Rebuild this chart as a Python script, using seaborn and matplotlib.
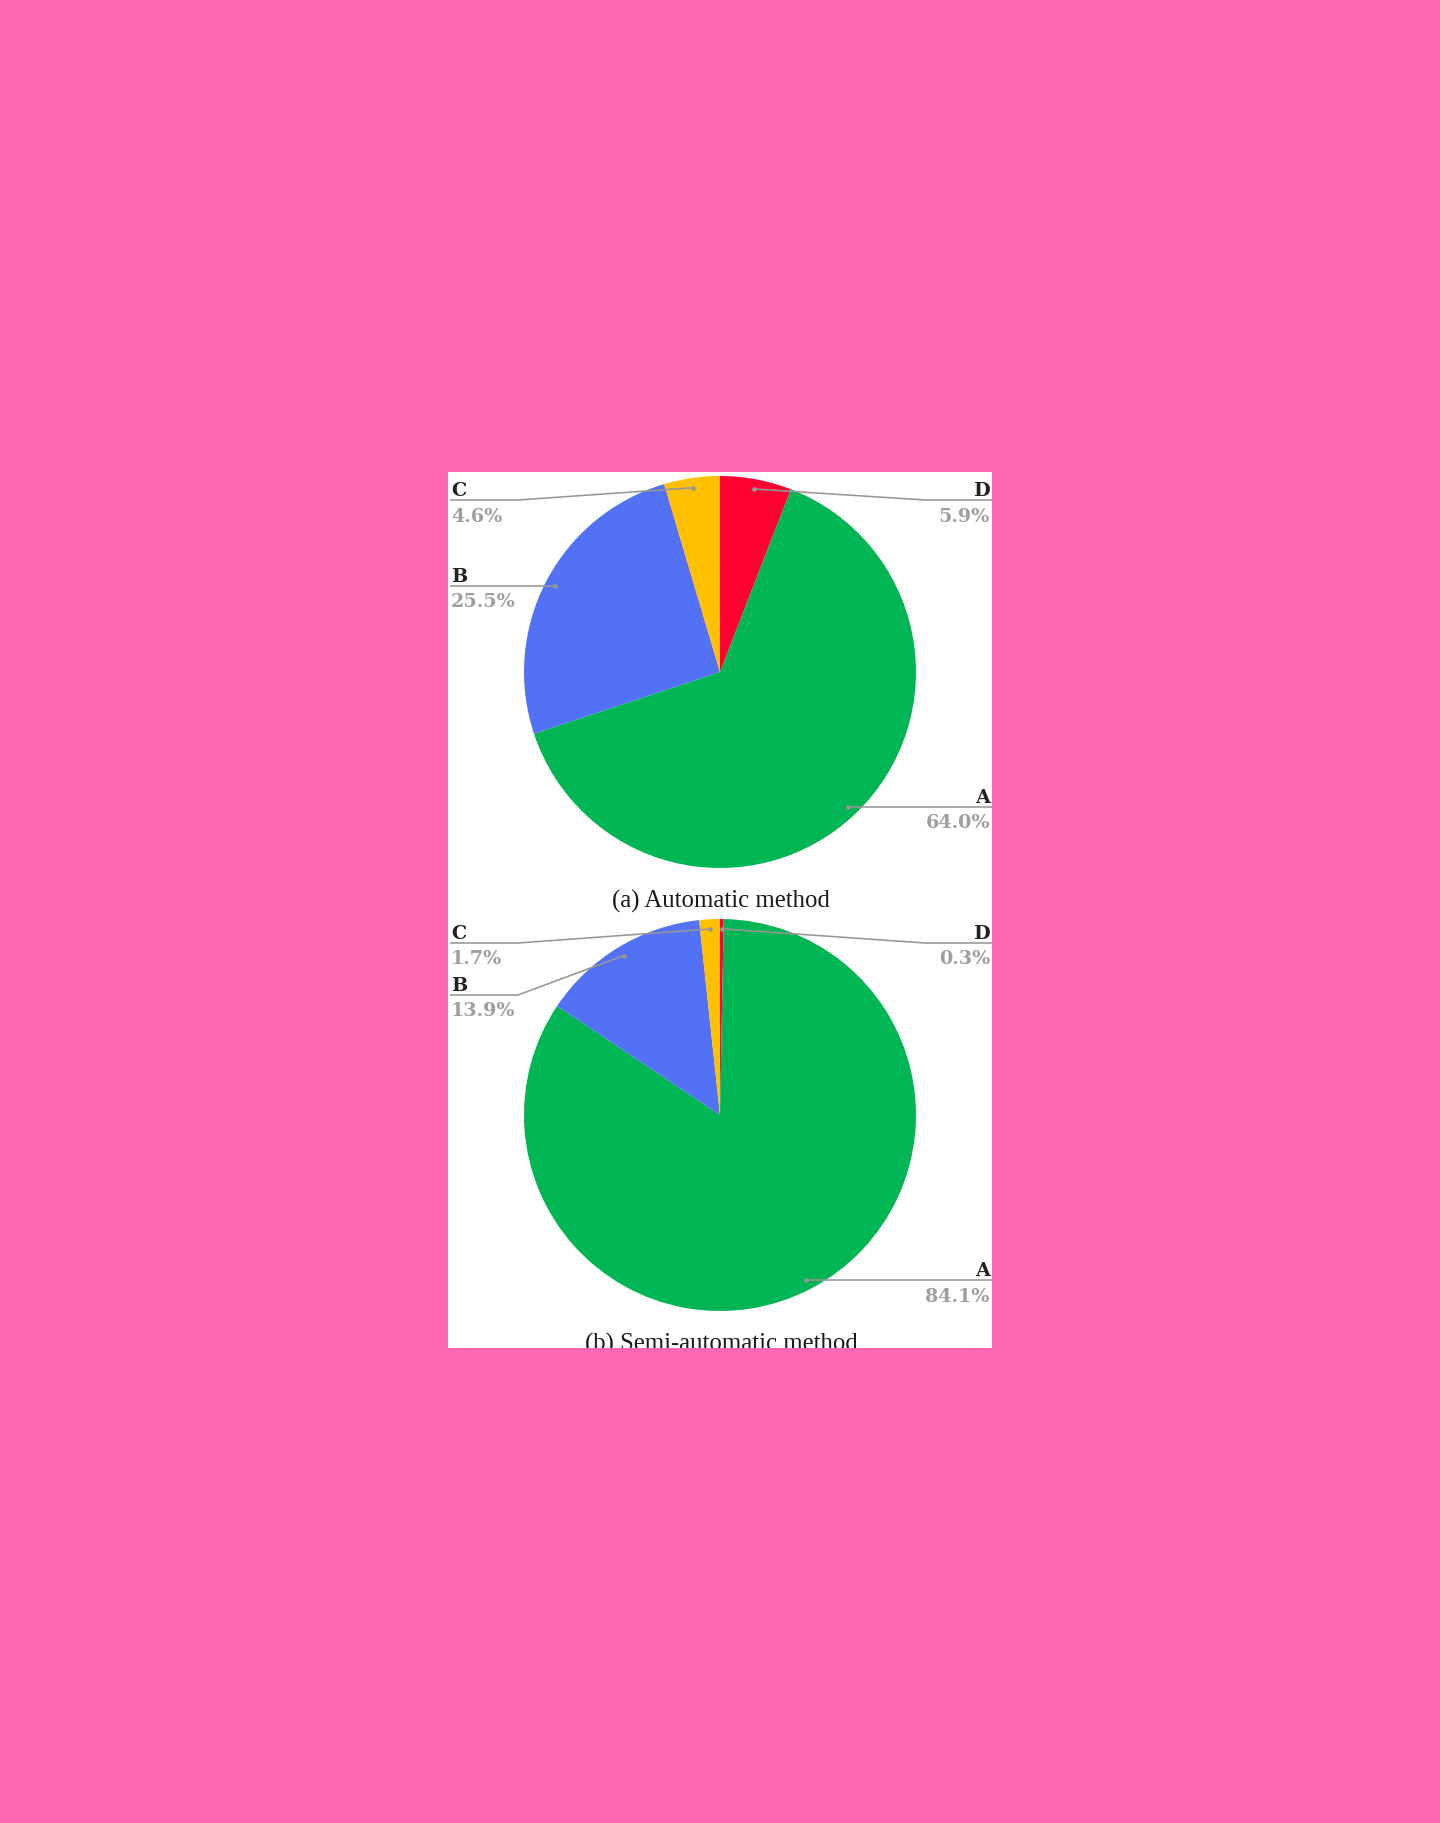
import numpy as np
import matplotlib
matplotlib.use("Agg")
import matplotlib.pyplot as plt
import seaborn as sns

# data, in drawing order (clockwise from 12 o'clock)
categories = ["D", "A", "B", "C"]
automatic = [5.9, 64.0, 25.5, 4.6]
semi_automatic = [0.3, 84.1, 13.9, 1.7]
captions = ["(a) Automatic method", "(b) Semi-automatic method"]

slice_colors = {"A": "#00B553", "B": "#5271F5", "C": "#FFC000", "D": "#FF0033"}

sns.set_theme(style="white")
plt.rcParams["font.family"] = ["DejaVu Serif", "DejaVu Sans"]

DPI = 100
fig = plt.figure(figsize=(14.4, 18.24), dpi=DPI, facecolor="#FF69B4")

# white panel, in pixel units (y measured upward from panel bottom)
PW, PH = 544, 876
ax = fig.add_axes([448 / 1440, (1824 - 1349) / 1824, PW / 1440, PH / 1824])
ax.set_facecolor("white")
for s in ax.spines.values():
    s.set_visible(False)

CHART_H = 443
RADIUS = 196
CX = 272
LINE_C = "#969696"


def draw_chart(values, caption, idx):
    top = idx * CHART_H
    cy = PH - (top + 200)
    wedges, _ = ax.pie(
        values,
        colors=[slice_colors[c] for c in categories],
        startangle=90,
        counterclock=False,
        center=(CX, cy),
        radius=RADIUS,
        frame=True,
        wedgeprops=dict(linewidth=0, antialiased=True),
    )

    # leader-line anchors at mid-angle of each wedge
    left, right = [], []
    for w, cat, v in zip(wedges, categories, values):
        ang = np.deg2rad((w.theta1 + w.theta2) / 2)
        dx = CX + 0.95 * RADIUS * np.cos(ang)
        dy = cy + 0.95 * RADIUS * np.sin(ang)
        (right if dx > CX else left).append((dx, dy, cat, v))

    for side, items in (("left", left), ("right", right)):
        items.sort(key=lambda t: -t[1])
        prev = None
        for dx, dy, cat, v in items:
            # distance below chart top, pushed down to avoid overlaps
            d = max(PH - dy, top + 28)
            if prev is not None:
                d = max(d, prev + 52)
            prev = d
            ly = PH - d
            if side == "left":
                bend, end, ha, tx = 70, 2, "left", 3
            else:
                bend, end, ha, tx = PW - 67, PW, "right", PW - 2
            ax.plot([dx, bend, end], [dy, ly, ly], color=LINE_C, lw=1.15,
                    solid_capstyle="butt", zorder=3)
            ax.plot([dx], [dy], marker="o", ms=3.4, color=LINE_C,
                    mec="none", zorder=4)
            ax.text(tx, ly + 5, cat, ha=ha, va="baseline", fontsize=13.8,
                    fontweight="bold", color="#212121", zorder=5)
            ax.text(tx, ly - 6.5, f"{v:.1f}%", ha=ha, va="top", fontsize=13.8,
                    fontweight="bold", color="#9E9E9E", zorder=5)

    ax.text(CX + 1, PH - (top + 435), caption, ha="center", va="baseline",
            fontsize=17.8, family=["Liberation Serif", "DejaVu Serif"],
            color="#1A1A1A", clip_on=True, zorder=5)


draw_chart(automatic, captions[0], 0)
draw_chart(semi_automatic, captions[1], 1)

ax.set_xlim(0, PW)
ax.set_ylim(0, PH)
ax.set_aspect("equal")
ax.set_xticks([])
ax.set_yticks([])

fig.savefig("out.png", dpi=DPI, facecolor=fig.get_facecolor())
